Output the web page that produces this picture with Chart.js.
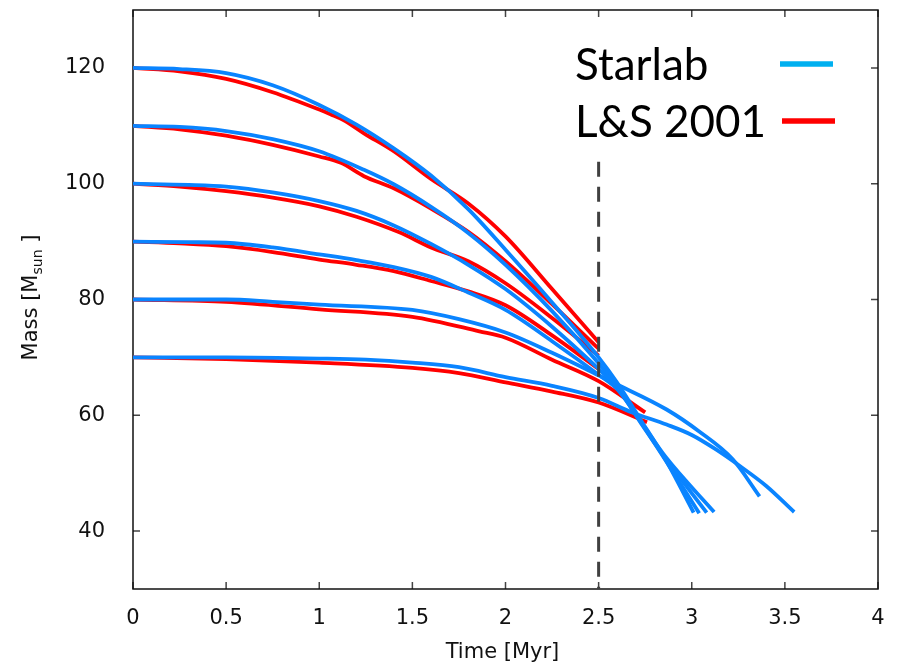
<!DOCTYPE html>
<html lang="en">
<head>
  <meta charset="UTF-8" />
  <title>Mass tracks</title>
  <script src="https://cdn.jsdelivr.net/npm/chart.js"></script>
  <style>
    html, body { margin: 0; padding: 0; background: #fff; }
    .chart-box { position: relative; width: 899px; height: 665px; }
  </style>
</head>
<body>
  <div class="chart-box"><canvas id="massChart"></canvas></div>

  <script>
    // [time in Myr, mass in Msun]
    const starlab120 = [[0,120],[0.25,119.8],[0.5,119.1],[0.75,117.0],[1.0,113.6],[1.2,110.2],[1.4,106.1],[1.6,101.4],[1.8,95.6],[2.0,88.6],[2.25,79.5],[2.5,70.0],[2.6,65.6],[2.72,59.5],[2.86,52.3],[3.01,43.2]];
    const starlab110 = [[0,110],[0.25,109.8],[0.5,109.1],[0.75,107.7],[1.0,105.6],[1.24,102.4],[1.4,99.9],[1.6,96.0],[1.8,91.5],[2.0,86.0],[2.25,78.0],[2.5,69.0],[2.6,65.0],[2.72,59.2],[2.86,52.2],[3.04,43.1]];
    const starlab100 = [[0,100],[0.3,99.8],[0.5,99.5],[0.75,98.5],[1.0,97.0],[1.2,95.3],[1.4,92.8],[1.6,89.6],[1.8,86.0],[2.0,81.8],[2.25,75.3],[2.5,68.0],[2.6,64.8],[2.72,59.0],[2.86,52.5],[3.08,43.2]];
    const starlab90  = [[0,90],[0.3,89.9],[0.5,89.8],[0.75,89.0],[1.0,87.8],[1.2,86.8],[1.4,85.6],[1.6,83.9],[1.8,81.2],[2.0,78.2],[2.25,72.8],[2.5,67.0],[2.6,64.5],[2.72,59.2],[2.86,52.8],[3.12,43.3]];
    const starlab80  = [[0,80],[0.5,80.0],[0.75,79.6],[1.0,79.1],[1.5,78.2],[1.75,76.6],[2.0,74.3],[2.25,70.8],[2.5,66.9],[2.575,65.7],[2.865,61.0],[3.04,57.2],[3.22,52.4],[3.364,46.0]];
    const starlab70  = [[0,70],[0.5,70.0],[1.0,69.8],[1.25,69.6],[1.5,69.1],[1.75,68.3],[2.0,66.6],[2.25,65.1],[2.5,63.0],[2.68,60.5],[2.865,58.4],[3.0,56.6],[3.13,54.1],[3.26,51.2],[3.4,47.8],[3.55,43.3]];

    const ls120 = [[0,120],[0.25,119.4],[0.5,118.1],[0.75,115.8],[1.0,112.8],[1.06,112.0],[1.13,111.0],[1.24,108.7],[1.4,105.6],[1.6,100.8],[1.8,96.6],[2.0,90.9],[2.25,81.8],[2.5,72.6]];
    const ls110 = [[0,110],[0.25,109.4],[0.5,108.3],[0.75,106.7],[1.0,104.7],[1.116,103.6],[1.24,101.3],[1.4,99.2],[1.6,95.7],[1.8,91.7],[2.0,86.6],[2.25,79.2],[2.5,71.5]];
    const ls100 = [[0,100],[0.25,99.5],[0.5,98.7],[0.75,97.6],[1.0,96.1],[1.2,94.3],[1.43,91.6],[1.6,89.0],[1.8,86.6],[2.0,82.8],[2.25,76.8],[2.5,70.3]];
    const ls90  = [[0,90],[0.25,89.7],[0.5,89.2],[0.75,88.2],[1.0,86.9],[1.2,86.0],[1.4,84.9],[1.6,83.2],[1.8,81.4],[2.0,79.0],[2.25,73.8],[2.5,68.0]];
    const ls80  = [[0,80],[0.5,79.6],[1.0,78.3],[1.5,77.0],[1.86,74.5],[2.0,73.4],[2.25,69.6],[2.5,65.9],[2.75,60.5]];
    const ls70  = [[0,70],[0.5,69.7],[1.0,69.1],[1.5,68.2],[1.75,67.3],[2.0,65.7],[2.25,64.1],[2.5,62.2],[2.76,58.8]];

    const xTicks = [0, 0.5, 1, 1.5, 2, 2.5, 3, 3.5, 4];
    const yTicks = [40, 60, 80, 100, 120];
    const cutTime = 2.5;
    const cutSpan = [103.8, 30];

    const legendNames = ['Starlab', 'L&S 2001'];
    const legendColors = ['#00b0f0', '#ff0000'];

    const BLUE = '#0a84ff';
    const RED = '#ff0000';
    const FONT = "'DejaVu Sans'";

    function track(points, color, order) {
      return {
        data: points.map(([t, m]) => ({ x: t, y: m })),
        borderColor: color,
        borderWidth: 3.8,
        pointRadius: 0,
        showLine: true,
        cubicInterpolationMode: 'monotone',
        order: order
      };
    }

    const datasets = [
      ...[ls120, ls110, ls100, ls90, ls80, ls70].map(p => track(p, RED, 2)),
      ...[starlab120, starlab110, starlab100, starlab90, starlab80, starlab70].map(p => track(p, BLUE, 1)),
      {
        data: cutSpan.map(m => ({ x: cutTime, y: m })),
        borderColor: '#404040',
        borderWidth: 3,
        borderDash: [15, 10],
        pointRadius: 0,
        showLine: true,
        tension: 0,
        order: 0
      }
    ];

    // frame with inward ticks on all four sides (drawn under the curves)
    const framePlugin = {
      id: 'frame',
      beforeDatasetsDraw(chart) {
        const { ctx, chartArea: a, scales: { x, y } } = chart;
        ctx.save();
        ctx.strokeStyle = '#444';
        ctx.lineWidth = 1.5;
        ctx.beginPath();
        xTicks.forEach(v => {
          const px = x.getPixelForValue(v);
          ctx.moveTo(px, a.bottom); ctx.lineTo(px, a.bottom - 7);
          ctx.moveTo(px, a.top); ctx.lineTo(px, a.top + 7);
        });
        yTicks.forEach(v => {
          const py = y.getPixelForValue(v);
          ctx.moveTo(a.left, py); ctx.lineTo(a.left + 7, py);
          ctx.moveTo(a.right, py); ctx.lineTo(a.right - 7, py);
        });
        ctx.stroke();
        ctx.strokeStyle = '#111';
        ctx.strokeRect(a.left, a.top, a.right - a.left, a.bottom - a.top);
        ctx.restore();
      },
      afterDraw(chart) {
        const { ctx, chartArea: a } = chart;
        ctx.save();
        ctx.fillStyle = '#111';

        // x title
        ctx.font = '21px ' + FONT;
        ctx.textAlign = 'center';
        ctx.textBaseline = 'alphabetic';
        ctx.fillText('Time [Myr]', (a.left + a.right) / 2 - 3, 658);

        // y title with subscript
        ctx.translate(37, (a.top + a.bottom) / 2 - 2);
        ctx.rotate(-Math.PI / 2);
        ctx.textAlign = 'left';
        const parts = [['Mass [M', 21, 0], ['sun', 14, 5], [' ]', 21, 0]];
        let total = 0;
        parts.forEach(([s, size]) => { ctx.font = size + 'px ' + FONT; total += ctx.measureText(s).width; });
        let cx = -total / 2;
        parts.forEach(([s, size, dy]) => {
          ctx.font = size + 'px ' + FONT;
          ctx.fillText(s, cx, dy);
          cx += ctx.measureText(s).width;
        });
        ctx.restore();

        // legend
        ctx.save();
        ctx.font = "44px Lato";
        ctx.textAlign = 'left';
        ctx.textBaseline = 'alphabetic';
        ctx.fillStyle = '#000';
        legendNames.forEach((name, i) => {
          const base = 80 + i * 57;
          ctx.fillText(name, 575, base);
          ctx.strokeStyle = legendColors[i];
          ctx.lineWidth = 5.5;
          ctx.beginPath();
          ctx.moveTo(780 + i * 2, base - 16);
          ctx.lineTo(833 + i * 2, base - 16);
          ctx.stroke();
        });
        ctx.restore();
      }
    };

    new Chart(document.getElementById('massChart'), {
      type: 'scatter',
      data: { datasets: datasets },
      options: {
        responsive: true,
        maintainAspectRatio: false,
        animation: false,
        events: [],
        layout: { padding: { top: 10, right: 21, left: 0, bottom: 0 } },
        plugins: { legend: { display: false }, tooltip: { enabled: false } },
        scales: {
          x: {
            type: 'linear',
            min: 0,
            max: 4,
            grid: { display: false },
            border: { display: false },
            afterBuildTicks: s => { s.ticks = xTicks.map(v => ({ value: v })); },
            afterFit: s => { s.height = 76; s.paddingLeft = 0; s.paddingRight = 0; },
            ticks: {
              padding: 9,
              color: '#111',
              font: { family: 'DejaVu Sans', size: 21 },
              callback: v => String(v)
            }
          },
          y: {
            min: 30,
            max: 130,
            grid: { display: false },
            border: { display: false },
            afterBuildTicks: s => { s.ticks = yTicks.map(v => ({ value: v })); },
            afterFit: s => { s.width = 133; s.paddingTop = 0; s.paddingBottom = 0; },
            ticks: {
              padding: 20,
              color: '#111',
              font: { family: 'DejaVu Sans', size: 21 },
              callback: v => String(v)
            }
          }
        }
      },
      plugins: [framePlugin]
    });
  </script>
</body>
</html>
